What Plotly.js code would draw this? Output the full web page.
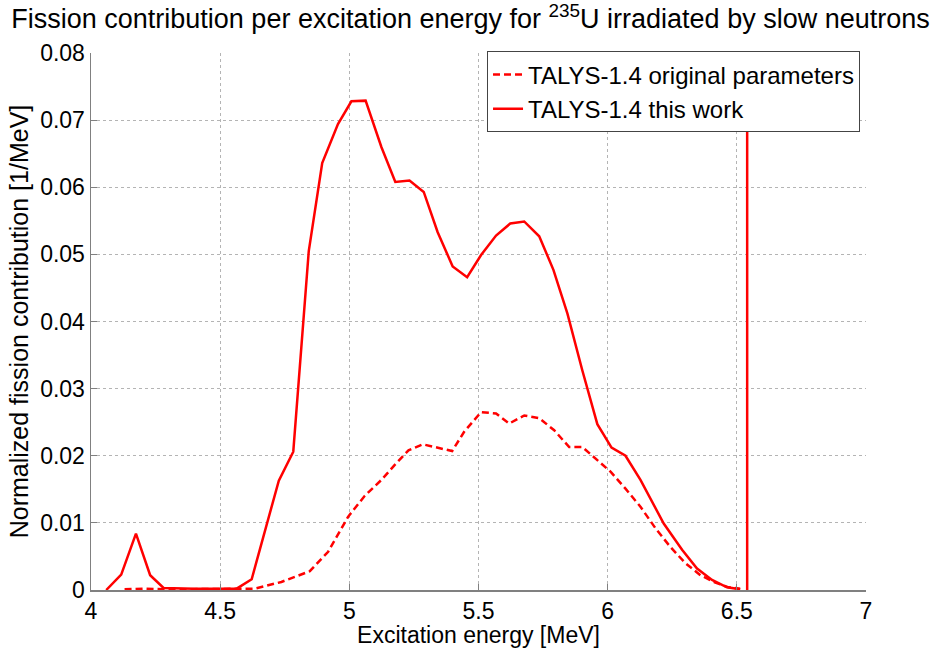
<!DOCTYPE html>
<html>
<head>
<meta charset="utf-8">
<script src="https://cdn.plot.ly/plotly-3.0.1.min.js"></script>
<style>html,body{margin:0;padding:0;background:#fff;}#chart{width:941px;height:648px;}</style>
</head>
<body>
<div id="chart"></div>
<script>
// Excitation energy [MeV] and normalized fission contribution [1/MeV]
var thisWorkE = [4.059, 4.117, 4.174, 4.229, 4.281, 4.34, 4.40, 4.45, 4.51, 4.564, 4.622, 4.727, 4.783, 4.843, 4.895, 4.956, 5.008, 5.063, 5.124, 5.178, 5.233, 5.288, 5.342, 5.400, 5.456, 5.510, 5.568, 5.623, 5.677, 5.735, 5.790, 5.844, 5.902, 5.960, 6.015, 6.069, 6.127, 6.217, 6.288, 6.346, 6.404, 6.462, 6.513];
var thisWorkF = [0.0000, 0.0023, 0.0084, 0.0022, 0.0003, 0.0002, 0.0002, 0.0002, 0.0002, 0.0002, 0.0016, 0.0163, 0.0206, 0.0505, 0.0636, 0.0694, 0.0728, 0.0729, 0.0660, 0.0608, 0.0610, 0.0593, 0.0533, 0.0482, 0.0466, 0.0499, 0.0528, 0.0546, 0.0549, 0.0527, 0.0477, 0.0412, 0.0327, 0.0247, 0.0212, 0.0200, 0.0164, 0.0099, 0.0060, 0.0032, 0.0015, 0.0004, 0.0001];

var originalE = [4.130, 4.20, 4.30, 4.40, 4.50, 4.634, 4.737, 4.847, 4.918, 4.995, 5.059, 5.124, 5.175, 5.229, 5.285, 5.340, 5.398, 5.445, 5.510, 5.568, 5.619, 5.677, 5.735, 5.793, 5.851, 5.902, 5.954, 6.012, 6.069, 6.127, 6.185, 6.243, 6.301, 6.359, 6.417, 6.468, 6.513];
var originalF = [0.0001, 0.0002, 0.0001, 0.0001, 0.0001, 0.0002, 0.0012, 0.0028, 0.0057, 0.0109, 0.0140, 0.0164, 0.0186, 0.0208, 0.0217, 0.0212, 0.0207, 0.0236, 0.0265, 0.0263, 0.0248, 0.0260, 0.0256, 0.0238, 0.0213, 0.0213, 0.0196, 0.0176, 0.0151, 0.0124, 0.0092, 0.0064, 0.0040, 0.0022, 0.0011, 0.0004, 0.0002];

var markerE = [6.54, 6.54];
var markerF = [0, 0.08];

var xTicks = [4, 4.5, 5, 5.5, 6, 6.5, 7];
var xTickText = ['4', '4.5', '5', '5.5', '6', '6.5', '7'];
var yTicks = [0, 0.01, 0.02, 0.03, 0.04, 0.05, 0.06, 0.07, 0.08];
var yTickText = ['0', '0.01', '0.02', '0.03', '0.04', '0.05', '0.06', '0.07', '0.08'];

var red = '#ff0000';
var font = '"Liberation Sans", Arial, Helvetica, sans-serif';

var traces = [
  {x: originalE, y: originalF, mode: 'lines', name: 'TALYS-1.4 original parameters',
   line: {color: red, width: 2.5, dash: '7px,4px'}},
  {x: thisWorkE, y: thisWorkF, mode: 'lines', name: 'TALYS-1.4 this work',
   line: {color: red, width: 2.5}},
  {x: markerE, y: markerF, mode: 'lines', showlegend: false, hoverinfo: 'skip',
   line: {color: red, width: 2.5}}
];

var axisCommon = {
  showline: true, linecolor: '#808080', linewidth: 1.5,
  showgrid: true, gridcolor: '#b4b4b4', griddash: 'dot', gridwidth: 1,
  ticks: 'inside', ticklen: 6, tickcolor: '#808080', tickwidth: 1,
  zeroline: false, mirror: false,
  tickfont: {family: font, size: 23, color: '#000'}
};

var layout = {
  width: 941, height: 648,
  paper_bgcolor: '#fff', plot_bgcolor: '#fff',
  margin: {l: 91, r: 75, t: 53, b: 58},
  font: {family: font, color: '#000'},
  title: {text: 'Fission contribution per excitation energy for <sup>235</sup>U irradiated by slow neutrons',
          font: {family: font, size: 27, color: '#000'},
          x: 0.5, xref: 'container', xanchor: 'center',
          y: 1 - 19 / 648, yref: 'container', yanchor: 'middle'},
  xaxis: Object.assign({}, axisCommon, {
    range: [4, 7], tickvals: xTicks, ticktext: xTickText,
    title: {text: 'Excitation energy [MeV]', font: {family: font, size: 23, color: '#000'}, standoff: 3}
  }),
  yaxis: Object.assign({}, axisCommon, {
    range: [0, 0.08], tickvals: yTicks, ticktext: yTickText,
    title: {text: 'Normalized fission contribution [1/MeV]', font: {family: font, size: 25, color: '#000'}, standoff: 4}
  }),
  showlegend: true,
  legend: {x: 0.511, y: 1.003, xanchor: 'left', yanchor: 'top',
           bgcolor: '#fff', bordercolor: '#444', borderwidth: 1,
           font: {family: font, size: 24, color: '#000'},
           itemwidth: 30, tracegroupgap: 0}
};

Plotly.newPlot('chart', traces, layout, {displayModeBar: false, staticPlot: true});
</script>
</body>
</html>
